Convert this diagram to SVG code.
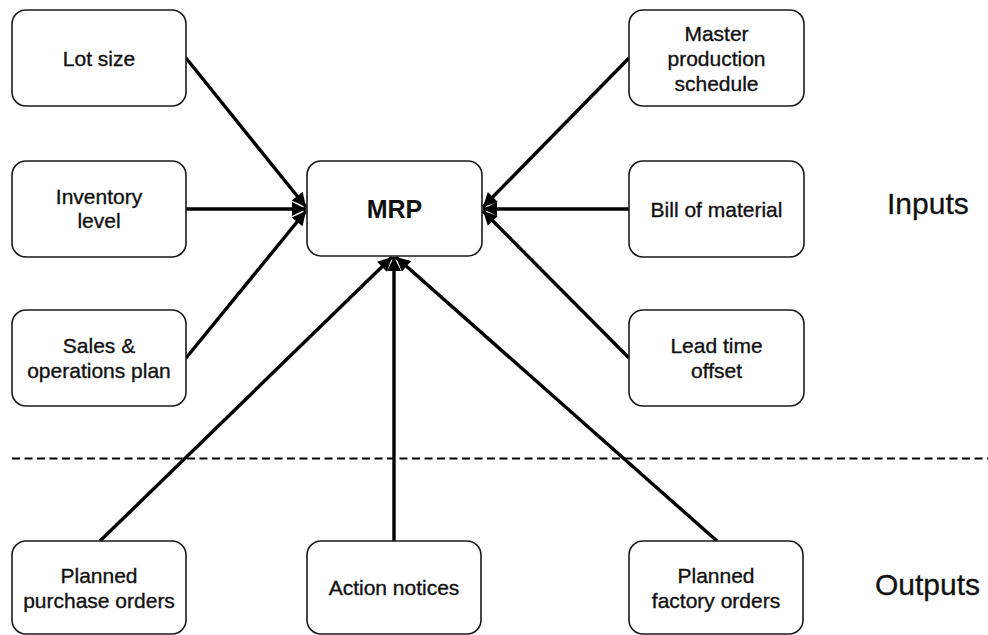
<svg xmlns="http://www.w3.org/2000/svg" width="988" height="635" viewBox="0 0 988 635">
  <style>
    .box { fill: #ffffff; stroke: #1a1a1a; stroke-width: 1.6; }
    .lbl { font-family: "Liberation Sans", Arial, sans-serif; font-size: 21px; fill: #111; stroke: #111; stroke-width: 0.35; text-anchor: middle; }
    .core { font-family: "Liberation Sans", Arial, sans-serif; font-size: 25px; font-weight: bold; fill: #111; text-anchor: middle; }
    .side { font-family: "Liberation Sans", Arial, sans-serif; font-size: 30px; fill: #111; stroke: #111; stroke-width: 0.3; }
    .link { stroke: #000; stroke-width: 3.4; fill: none; marker-end: url(#head); }
    .split { stroke: #000; stroke-width: 2.2; stroke-dasharray: 8 4.5; fill: none; }
  </style>
  <defs>
    <marker id="head" markerUnits="userSpaceOnUse" markerWidth="18" markerHeight="18" refX="15" refY="9" orient="auto">
      <path d="M1,2 L15,9 L1,16 Z" fill="#000"/>
    </marker>
  </defs>

  <!-- separator between inputs and outputs -->
  <line class="split" x1="12" y1="458.5" x2="988" y2="458.5"/>

  <!-- connectors: every input and output points at MRP -->
  <g id="connectors">
    <line class="link" x1="186" y1="58" x2="306" y2="207"/>
    <line class="link" x1="186" y1="209" x2="306" y2="209"/>
    <line class="link" x1="186" y1="358" x2="306" y2="211"/>
    <line class="link" x1="629" y1="58" x2="483" y2="207"/>
    <line class="link" x1="629" y1="209" x2="483" y2="209"/>
    <line class="link" x1="629" y1="358" x2="483" y2="211"/>
    <line class="link" x1="100" y1="541" x2="392" y2="257"/>
    <line class="link" x1="394" y1="541" x2="394" y2="257"/>
    <line class="link" x1="717" y1="541" x2="396" y2="257"/>
  </g>

  <g id="lot-size">
    <rect class="box" x="12" y="10" width="174" height="96" rx="14"/>
    <text class="lbl" x="99" y="65.5">Lot size</text>
  </g>
  <g id="inventory-level">
    <rect class="box" x="12" y="161" width="174" height="96" rx="14"/>
    <text class="lbl" x="99" y="204">Inventory</text>
    <text class="lbl" x="99" y="228">level</text>
  </g>
  <g id="sales-operations-plan">
    <rect class="box" x="12" y="310" width="174" height="96" rx="14"/>
    <text class="lbl" x="99" y="353">Sales &amp;</text>
    <text class="lbl" x="99" y="378">operations plan</text>
  </g>

  <g id="mrp">
    <rect class="box" x="307" y="161" width="175" height="95" rx="14"/>
    <text class="core" x="394.5" y="218">MRP</text>
  </g>

  <g id="master-production-schedule">
    <rect class="box" x="629" y="10" width="175" height="96" rx="14"/>
    <text class="lbl" x="716.5" y="41">Master</text>
    <text class="lbl" x="716.5" y="66">production</text>
    <text class="lbl" x="716.5" y="91">schedule</text>
  </g>
  <g id="bill-of-material">
    <rect class="box" x="629" y="161" width="175" height="96" rx="14"/>
    <text class="lbl" x="716.5" y="216.5">Bill of material</text>
  </g>
  <g id="lead-time-offset">
    <rect class="box" x="629" y="310" width="175" height="96" rx="14"/>
    <text class="lbl" x="716.5" y="353">Lead time</text>
    <text class="lbl" x="716.5" y="378">offset</text>
  </g>

  <g id="planned-purchase-orders">
    <rect class="box" x="12" y="541" width="174" height="93" rx="14"/>
    <text class="lbl" x="99" y="583">Planned</text>
    <text class="lbl" x="99" y="608">purchase orders</text>
  </g>
  <g id="action-notices">
    <rect class="box" x="307" y="541" width="174" height="93" rx="14"/>
    <text class="lbl" x="394" y="595">Action notices</text>
  </g>
  <g id="planned-factory-orders">
    <rect class="box" x="629" y="541" width="174" height="93" rx="14"/>
    <text class="lbl" x="716" y="583">Planned</text>
    <text class="lbl" x="716" y="608">factory orders</text>
  </g>

  <text class="side" x="887" y="214">Inputs</text>
  <text class="side" x="875" y="595">Outputs</text>
</svg>
